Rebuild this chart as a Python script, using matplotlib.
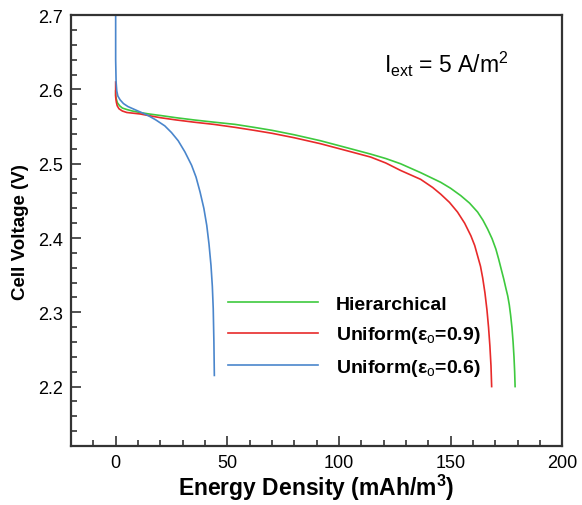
import matplotlib
matplotlib.use("Agg")
import matplotlib.pyplot as plt
from matplotlib.ticker import MultipleLocator

plt.rcParams["font.family"] = ["Liberation Sans", "DejaVu Sans"]
plt.rcParams["mathtext.fontset"] = "custom"
plt.rcParams["mathtext.rm"] = "Liberation Sans"
plt.rcParams["mathtext.it"] = "Liberation Sans:italic"
plt.rcParams["mathtext.bf"] = "Liberation Sans:bold"

# discharge curves
x_green = [0, 0, 0.3, 0.8, 1.8, 3, 5, 7.5, 10.8, 15, 20, 27, 35, 44, 53.5, 62,
           70, 80, 91.7, 103, 114.2, 121, 127.6, 136.6, 145.6, 150, 154.6,
           158.5, 162.1, 164.5, 166.6, 168.6, 170.3, 171.5, 172.6, 173.8, 174.8,
           175.6, 176.3, 176.9, 177.5, 178.0, 178.4, 178.7, 178.9]
y_green = [2.598, 2.592, 2.587, 2.582, 2.578, 2.575, 2.573, 2.571, 2.569, 2.567,
           2.565, 2.562, 2.559, 2.556, 2.553, 2.549, 2.545, 2.539, 2.531, 2.522,
           2.513, 2.507, 2.500, 2.488, 2.475, 2.467, 2.457, 2.447, 2.435, 2.424,
           2.412, 2.399, 2.385, 2.372, 2.359, 2.345, 2.332, 2.322, 2.310, 2.296,
           2.279, 2.260, 2.240, 2.220, 2.2]

x_red = [0, 0, 0.3, 0.7, 1.5, 3, 5, 8, 11, 14.5, 20, 27, 35, 44, 53.5, 62, 70,
         80, 91.7, 103, 114.2, 121, 127.6, 136.6, 142, 145.6, 149.5, 153.1,
         156.3, 159.1, 160.8, 162.1, 163.4, 164.4, 165.4, 166.3, 167.0, 167.6,
         168.1, 168.4]
y_red = [2.61, 2.59, 2.583, 2.578, 2.574, 2.571, 2.569, 2.568, 2.567, 2.565,
         2.562, 2.559, 2.556, 2.553, 2.549, 2.545, 2.541, 2.535, 2.527, 2.518,
         2.509, 2.501, 2.491, 2.479, 2.468, 2.459, 2.448, 2.435, 2.420, 2.403,
         2.390, 2.376, 2.362, 2.346, 2.326, 2.303, 2.280, 2.255, 2.228, 2.2]

x_blue = [0, 0, 0.2, 0.5, 1.0, 2, 3.5, 5.5, 8.5, 11.5, 14.5, 18, 22, 25, 28, 31,
          34, 36, 37.8, 39.5, 40.8, 41.8, 42.7, 43.3, 43.7, 44.0, 44.2]
y_blue = [2.70, 2.64, 2.61, 2.598, 2.591, 2.586, 2.581, 2.577, 2.573, 2.569,
          2.565, 2.559, 2.551, 2.542, 2.531, 2.516, 2.498, 2.482, 2.462, 2.440,
          2.417, 2.392, 2.363, 2.335, 2.305, 2.26, 2.215]

labels = ["Hierarchical", "Uniform(ε$_{\\rm o}$=0.9)", "Uniform(ε$_{\\rm o}$=0.6)"]
colors = ["#3ec93e", "#e82a2a", "#4a86cc"]

fig = plt.figure(figsize=(5.82, 5.06), dpi=100)
ax = fig.add_axes([0.122, 0.1166, 0.844, 0.8514])

for xs, ys, lab, c in zip([x_green, x_red, x_blue], [y_green, y_red, y_blue], labels, colors):
    ax.plot(xs, ys, color=c, lw=1.2, label=lab)

ax.set_xlim(-20, 200)
ax.set_ylim(2.12, 2.7)
ax.xaxis.set_major_locator(MultipleLocator(50))
ax.xaxis.set_minor_locator(MultipleLocator(10))
ax.yaxis.set_major_locator(MultipleLocator(0.1))
ax.yaxis.set_minor_locator(MultipleLocator(0.02))
ax.tick_params(which="both", direction="in", top=False, right=False,
               labelsize=13, width=1.2, color="#333333")
ax.tick_params(which="major", length=7, pad=6)
ax.tick_params(which="minor", length=4)
for s in ax.spines.values():
    s.set_linewidth(1.6)
    s.set_color("#333333")

ax.set_xlabel("Energy Density (mAh/m$^{\\mathbf{3}}$)", fontsize=16.5, fontweight="bold", labelpad=0)
ax.set_ylabel("Cell Voltage (V)", fontsize=13.5, fontweight="bold", labelpad=6)

ax.text(0.764, 0.889, "I$_{\\rm ext}$ = 5 A/m$^2$", transform=ax.transAxes,
        ha="center", va="center", fontsize=16.5)

leg = ax.legend(loc="upper left", bbox_to_anchor=(0.32, 0.35), frameon=False,
                handlelength=4.6, handletextpad=0.95, labelspacing=0.6,
                borderpad=0, borderaxespad=0,
                prop={"weight": "bold", "size": 14})

fig.savefig("out.png", dpi=100)
